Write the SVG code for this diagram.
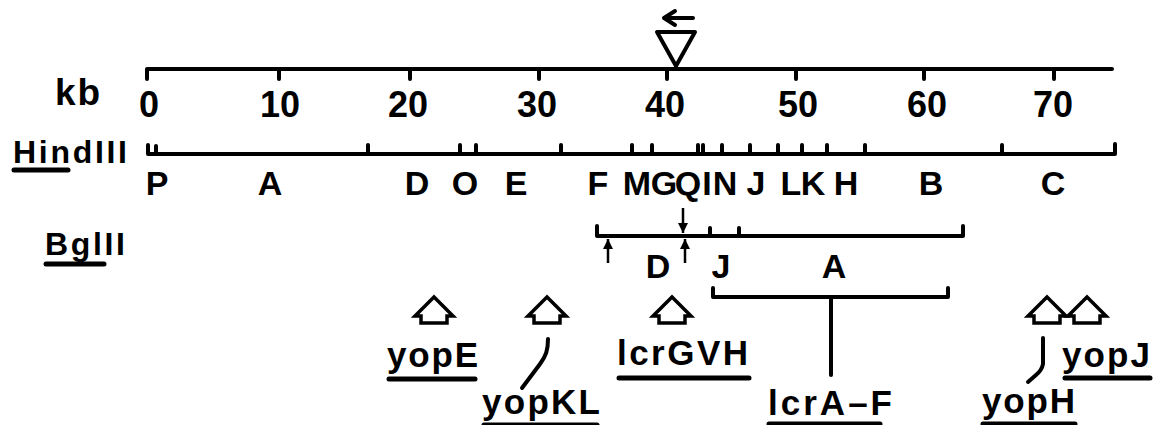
<svg xmlns="http://www.w3.org/2000/svg" width="1153" height="425" viewBox="0 0 1153 425">
<style>
text{font-family:"Liberation Sans",Arial,sans-serif;font-weight:bold;fill:#000}
.l{stroke:#000;stroke-width:4;fill:none;stroke-linecap:round;stroke-linejoin:round}
.u{stroke:#000;stroke-width:5;fill:none;stroke-linecap:round}
.t{stroke:#000;stroke-width:2.5;fill:none}
.num{font-size:36px;text-anchor:middle}
.let{font-size:34px;text-anchor:middle}
.gene{font-size:35px}
</style>
<defs>
<marker id="ah" viewBox="0 0 10 10" refX="10" refY="5" markerWidth="4" markerHeight="4" orient="auto">
<path d="M0,0 L10,5 L0,10 z" fill="#000"/>
</marker>
<path id="house" d="M0,0 L19,19 L13,19 L13,26 L-13,26 L-13,19 L-19,19 Z" stroke="#000" stroke-width="3.5" fill="#fff" stroke-linejoin="miter"/>
</defs>

<g id="scale">
<path class="l" d="M147,79 L147,69 L1112,69"/>
<path class="l" d="M279,69V79 M410,69V79 M539,69V79 M667,69V79 M796,69V79 M924,69V79 M1054,69V79"/>
<text x="55" y="105" font-size="37" textLength="45" lengthAdjust="spacing">kb</text>
<text class="num" x="149" y="117">0</text>
<text class="num" x="280" y="117">10</text>
<text class="num" x="408" y="117">20</text>
<text class="num" x="537" y="117">30</text>
<text class="num" x="665" y="117">40</text>
<text class="num" x="798" y="117">50</text>
<text class="num" x="927" y="117">60</text>
<text class="num" x="1053" y="117">70</text>
</g>

<g id="insertion">
<polygon class="l" points="657,32 695,32 676,66"/>
<path class="l" d="M693,18 L664,18 M675,11 L664,18 L675,25"/>
</g>

<g id="hindIII">
<text x="13" y="163" font-size="32" textLength="114" lengthAdjust="spacing">HindIII</text>
<line class="u" x1="14" y1="170" x2="68" y2="170"/>
<path class="l" d="M148,145 L148,154 L1115,154 L1115,144"/>
<path class="l" d="M156,146V154 M368,145V154 M460,145V154 M476,145V154 M561,145V154 M632,145V154 M652,145V154 M698,145V154 M703,145V154 M722,145V154 M750,145V154 M778,145V154 M802,145V154 M827,145V154 M865,145V154 M1002,145V154"/>
<text class="let" x="157" y="195">P</text>
<text class="let" x="270" y="195">A</text>
<text class="let" x="417" y="195">D</text>
<text class="let" x="465" y="195">O</text>
<text class="let" x="516" y="195">E</text>
<text class="let" x="598" y="195">F</text>
<text class="let" x="637" y="195">M</text>
<text class="let" x="664" y="195">G</text>
<text class="let" x="688" y="195">Q</text>
<text class="let" x="707" y="195">I</text>
<text class="let" x="725" y="195">N</text>
<text class="let" x="756" y="195">J</text>
<text class="let" x="791" y="195">L</text>
<text class="let" x="813" y="195">K</text>
<text class="let" x="846" y="195">H</text>
<text class="let" x="931" y="195">B</text>
<text class="let" x="1053" y="195">C</text>
</g>

<g id="bglII">
<text x="45" y="255" font-size="32" textLength="80" lengthAdjust="spacing">BglII</text>
<line class="u" x1="46" y1="264" x2="104" y2="264"/>
<path class="l" d="M597,226 L597,236 L963,236 L963,226"/>
<path class="l" d="M710,228V236 M739,228V236"/>
<line class="t" x1="608" y1="263" x2="608" y2="239" marker-end="url(#ah)"/>
<line class="t" x1="685" y1="263" x2="685" y2="239" marker-end="url(#ah)"/>
<line class="t" x1="683" y1="208" x2="683" y2="233" marker-end="url(#ah)"/>
<text class="let" x="658" y="278">D</text>
<text class="let" x="721" y="278">J</text>
<text class="let" x="834" y="278">A</text>
</g>

<g id="connectors">
<path class="l" d="M713,288 L713,297 L948,297 L948,288"/>
<line class="l" x1="831" y1="297" x2="831" y2="375" stroke-width="3.5"/>
<path class="l" d="M548,339 C548,350 546,356 540,364 L522,388"/>
<path class="l" d="M1043,338 L1043,364 Q1042,370 1036,375 L1028,382"/>
</g>

<g id="gene-yopE">
<use href="#house" x="434" y="297"/>
<text class="gene" x="387" y="367" textLength="91" lengthAdjust="spacing">yopE</text>
<line class="u" x1="389" y1="379" x2="475" y2="379"/>
</g>
<g id="gene-yopKL">
<use href="#house" x="547" y="297"/>
<text class="gene" x="482" y="414" textLength="118" lengthAdjust="spacing">yopKL</text>
<line class="u" x1="484" y1="425" x2="597" y2="425"/>
</g>
<g id="gene-lcrGVH">
<use href="#house" x="672" y="297"/>
<text class="gene" x="617" y="365" textLength="131" lengthAdjust="spacing">lcrGVH</text>
<line class="u" x1="619" y1="378" x2="749" y2="378"/>
</g>
<g id="gene-lcrAF">
<text class="gene" x="768" y="415" textLength="124" lengthAdjust="spacing">lcrA–F</text>
<line class="u" x1="769" y1="424" x2="880" y2="424"/>
</g>
<g id="gene-yopH">
<use href="#house" x="1047" y="297"/>
<text class="gene" x="982" y="413" textLength="93" lengthAdjust="spacing">yopH</text>
<line class="u" x1="983" y1="424" x2="1075" y2="424"/>
</g>
<g id="gene-yopJ">
<use href="#house" x="1087" y="297"/>
<text class="gene" x="1062" y="367" textLength="88" lengthAdjust="spacing">yopJ</text>
<line class="u" x1="1065" y1="378" x2="1150" y2="378"/>
</g>
</svg>
